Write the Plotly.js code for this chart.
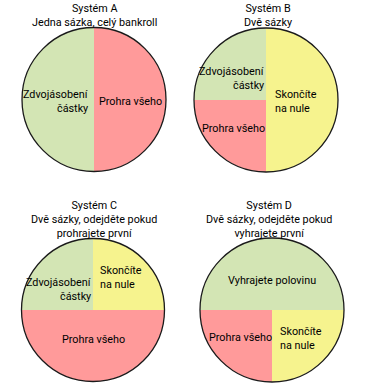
<!DOCTYPE html>
<html>
<head>
<meta charset="utf-8">
<script src="https://cdn.plot.ly/plotly-3.0.1.min.js"></script>
<style>html,body{margin:0;padding:0;background:#fff;}#chart{width:365px;height:383px;}</style>
</head>
<body>
<div id="chart"></div>
<script>
// ---- data ----
const systemNames = ['Systém A', 'Systém B', 'Systém C', 'Systém D'];
const systemSubtitles = [
  'Jedna sázka, celý bankroll',
  'Dvě sázky',
  'Dvě sázky, odejděte pokud<br>prohrajete první',
  'Dvě sázky, odejděte pokud<br>vyhrajete první'
];
const labelsA = ['Prohra všeho', 'Zdvojásobení částky'];
const valuesA = [50, 50];
const labelsB = ['Skončíte na nule', 'Prohra všeho', 'Zdvojásobení částky'];
const valuesB = [50, 25, 25];
const labelsC = ['Skončíte na nule', 'Prohra všeho', 'Zdvojásobení částky'];
const valuesC = [25, 50, 25];
const labelsD = ['Vyhrajete polovinu', 'Skončíte na nule', 'Prohra všeho'];
const valuesD = [50, 25, 25];

// ---- styles ----
const W = 365, H = 383;
const colorMap = {
  'Prohra všeho': '#FF9A9A',
  'Zdvojásobení částky': '#D3E5B4',
  'Skončíte na nule': '#F6F38E',
  'Vyhrajete polovinu': '#D3E5B4'
};
const FONT = 'Roboto, "Open Sans", sans-serif';
const FS = 10.8;
const LINE = 14;
const px = v => v / W;
const py = v => 1 - v / H;

const geo = [
  {cx: 94, cy: 99.5, r: 72, rot: 0},
  {cx: 266, cy: 100, r: 72, rot: 0},
  {cx: 93, cy: 310, r: 71.5, rot: 0},
  {cx: 272, cy: 310, r: 72, rot: -90}
];
const pieLabels = [labelsA, labelsB, labelsC, labelsD];
const pieValues = [valuesA, valuesB, valuesC, valuesD];

const traces = [];
pieLabels.forEach((labs, i) => {
  const g = geo[i];
  const domain = {x: [px(g.cx - g.r), px(g.cx + g.r)], y: [py(g.cy + g.r), py(g.cy - g.r)]};
  traces.push({
    type: 'pie', labels: labs, values: pieValues[i], sort: false, direction: 'clockwise',
    rotation: g.rot, domain: domain, textinfo: 'none', hoverinfo: 'label',
    marker: {colors: labs.map(l => colorMap[l]), line: {width: 0}},
    showlegend: false
  });
  traces.push({
    type: 'pie', labels: ['outline' + i], values: [1], domain: domain, textinfo: 'none',
    hoverinfo: 'skip', marker: {colors: ['rgba(0,0,0,0)'], line: {color: '#1a1a1a', width: 1.3}},
    showlegend: false
  });
});

const labelPos = [
  {'Prohra všeho': {x: 130, y: 101, xa: 'center'}, 'Zdvojásobení částky': {x: 88, y: 101, xa: 'right'}},
  {'Skončíte na nule': {x: 275, y: 101, xa: 'left'}, 'Prohra všeho': {x: 233, y: 128, xa: 'center'}, 'Zdvojásobení částky': {x: 264, y: 78, xa: 'right'}},
  {'Skončíte na nule': {x: 100, y: 277, xa: 'left'}, 'Prohra všeho': {x: 93, y: 339, xa: 'center'}, 'Zdvojásobení částky': {x: 91, y: 289, xa: 'right'}},
  {'Vyhrajete polovinu': {x: 272, y: 280, xa: 'center'}, 'Skončíte na nule': {x: 280, y: 338, xa: 'left'}, 'Prohra všeho': {x: 240, y: 337, xa: 'center'}}
];
const labelLines = {
  'Zdvojásobení částky': ['Zdvojásobení', 'částky'],
  'Skončíte na nule': ['Skončíte', 'na nule']
};

const annotations = [];
pieLabels.forEach((labs, i) => {
  labs.forEach(l => {
    const p = labelPos[i][l];
    const lines = labelLines[l] || [l];
    lines.forEach((t, k) => {
      const yy = p.y + (k - (lines.length - 1) / 2) * LINE;
      annotations.push({
        xref: 'paper', yref: 'paper', x: px(p.x), y: py(yy), xanchor: p.xa, yanchor: 'middle',
        showarrow: false, borderpad: 0, borderwidth: 0,
        text: t, font: {family: FONT, size: FS, color: '#000'}
      });
    });
  });
});

const titlePos = [{x: 94, y: 0}, {x: 268, y: 0}, {x: 94, y: 197}, {x: 269, y: 197}];
systemNames.forEach((n, i) => {
  annotations.push({
    xref: 'paper', yref: 'paper', x: px(titlePos[i].x), y: py(titlePos[i].y), xanchor: 'center', yanchor: 'top',
    align: 'center', showarrow: false, text: n + '<br>' + systemSubtitles[i],
    font: {family: FONT, size: FS, color: '#000'}
  });
});

const layout = {
  width: W, height: H, margin: {l: 0, r: 0, t: 0, b: 0},
  paper_bgcolor: '#fff', plot_bgcolor: '#fff', showlegend: false,
  annotations: annotations
};
Plotly.newPlot('chart', traces, layout, {displayModeBar: false, staticPlot: true});
</script>
</body>
</html>
